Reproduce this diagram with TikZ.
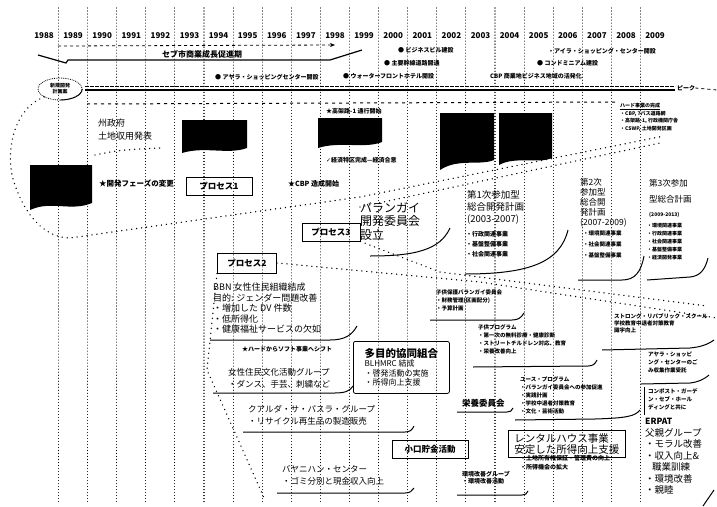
\documentclass[tikz,border=0pt]{standalone}
\usepackage{fontspec}
\setmainfont{Noto Sans CJK JP}
\newfontfamily\symfont{DejaVu Sans}
\usetikzlibrary{arrows.meta,positioning,shapes.geometric}
\tikzset{
  yearlabel/.style={font=\bfseries\fontsize{8}{9}\selectfont, inner sep=0pt},
  colsep/.style={line width=1.1pt, dash pattern=on 0.01pt off 3pt, line cap=round},
  dotfunnel/.style={line width=1.5pt, dash pattern=on 0.01pt off 5pt, line cap=round},
  eventtext/.style={anchor=west, inner sep=0pt, font=\bfseries\fontsize{6}{7}\selectfont},
  smalltext/.style={anchor=north west, align=left, inner sep=0pt, font=\bfseries\fontsize{5.5}{8}\selectfont},
  midtext/.style={anchor=north west, align=left, inner sep=0pt, font=\fontsize{8.5}{12}\selectfont},
  bigtext/.style={anchor=north west, align=left, inner sep=0pt, font=\fontsize{10}{12}\selectfont},
  procbox/.style={draw, line width=1pt, minimum width=58pt, minimum height=18pt, inner sep=1pt, font=\bfseries\fontsize{8.5}{9}\selectfont},
  flagfill/.style={fill=black},
  curveline/.style={line width=1pt}
}
\begin{document}
\begin{tikzpicture}[x=1pt,y=-1pt]
\fill[white] (0,0) rectangle (717,506);
\useasboundingbox (0,0) rectangle (717,506);
% year columns
\foreach \i in {0,...,20}
  \draw[colsep] ({58.5+29.1*\i},8) -- ({58.5+29.1*\i},504);
\foreach \yr [count=\i from 0] in {1988,...,2009}
  \node[yearlabel] (y\yr) at ({44+29.1*\i},36) {\yr};

% growth arrow
\draw[dashed, line width=0.8pt, -{Stealth[length=5pt,width=4pt]}] (58,46) -- (335,45);
\node[font=\bfseries\fontsize{8}{9}\selectfont, inner sep=0pt] (boom) at (202,54) {セブ市商業成長促進期};
\draw[line width=1.2pt] (38,55) -- (66,63) -- (68,60) -- (330,60) -- (362,50);

% events
\node[eventtext] (bizbld) at (398,50) {● ビジネスビル建設};
\node[eventtext] (island) at (548,51) {・アイラ・ショッピング・センター開設};
\node[eventtext] (road) at (384,63) {● 主要幹線道路開通};
\node[eventtext] (condo) at (537,63) {● コンドミニアム建設};
\node[eventtext] (ayala) at (215,77) {● アヤラ・ショッピングセンター開設};
\node[eventtext] (water) at (343,76) {● ウォーターフロントホテル開設};
\node[eventtext] (cbpbiz) at (490,76) {CBP 商業地ビジネス地域の活発化};
\draw[line width=0.6pt, dash pattern=on 4pt off 1pt] (85,86) -- (675,86);
\draw[line width=1.3pt] (85,90) -- (675,90);
\node[eventtext] (peak) at (677,88) {ピーク};
\draw[dashed, line width=0.8pt] (peak.east) -- (717,90);
\draw[line width=1pt, dash pattern=on 3pt off 4pt] (87,104) -- (615,102);

% start plan
\node[ellipse, minimum width=44pt, minimum height=22pt, inner sep=0pt, align=center, font=\bfseries\fontsize{5}{6}\selectfont] (newplan) at (60,89) {新規開発\\計画案};
\draw[densely dotted, line width=0.8pt] (newplan.center) ellipse (22 and 11);
\draw[line width=0.9pt] (newplan.east) arc[start angle=0, end angle=90, x radius=22, y radius=11];
\draw[dotfunnel] (newplan.south west) .. controls (10,110) and (5,160) .. (15,185) .. controls (25,215) and (45,238) .. (70,238) -- (360,197) -- (664,136);
\draw[dotfunnel] (360,207) -- (660,143);

% photos
\fill[flagfill] (30,165) -- (92,165) -- (92,203) .. controls (70,212) and (52,200) .. (30,210) -- cycle;
\fill[flagfill] (182,120) -- (247,120) -- (247,148) .. controls (228,155) and (205,146) .. (182,153) -- cycle;
\fill[flagfill] (318,118) -- (382,118) -- (382,142) .. controls (365,149) and (340,141) .. (318,148) -- cycle;
\fill[flagfill] (440,113) -- (494,113) -- (494,160) .. controls (480,166) and (458,158) .. (440,170) -- cycle;
\fill[flagfill] (499,113) -- (552,113) -- (552,158) .. controls (538,164) and (515,156) .. (499,165) -- cycle;

% process 1 and 3
\node[midtext, font=\fontsize{9}{13}\selectfont] (govt) at (98,119) {州政府\\土地収用発表};
\draw[dotfunnel] (95,155) .. controls (120,150) .. (160,148);
\node[eventtext, font=\bfseries\fontsize{7.5}{8}\selectfont] (phase) at (99,184) {★開発フェーズの変更};
\node[procbox, minimum width=66pt] (proc1) at (219,186) {プロセス1};
\node[eventtext, font=\bfseries\fontsize{7}{8}\selectfont] (cbpstart) at (288,184) {★CBP 造成開始};
\node[eventtext] (hwy) at (326,111) {★高架路-1 通行開始};
\node[eventtext] (econ) at (326,160) {{\symfont ✓}経済特区完成—経済合意};
\node[procbox] (proc3) at (331,232) {プロセス3};
\node[bigtext, font=\fontsize{12}{13.5}\selectfont] (brgy) at (360,202) {バランガイ\\開発委員会\\設立};
\draw[curveline] (370,256) .. controls (415,256) and (440,250) .. (450,228);

% plans
\node[bigtext, font=\fontsize{9.5}{12}\selectfont] (plan1) at (467,190) {第1次参加型\\総合開発計画\\(2003-2007)};
\node[smalltext, font=\bfseries\fontsize{6}{10}\selectfont] (plan1items) at (466,231) {・行政関連事業\\・基盤整備事業\\・社会関連事業};
\draw[curveline] (465,274) .. controls (530,274) and (560,262) .. (568,230);
\node[bigtext, font=\fontsize{8.5}{10}\selectfont] (plan2) at (580,178) {第2次\\参加型\\総合開\\発計画\\(2007-2009)};
\node[smalltext, font=\bfseries\fontsize{5.5}{11}\selectfont] (plan2items) at (583,231) {・環境関連事業\\・社会関連事業\\・基盤整備事業};
\draw[curveline] (578,280) -- (622,280) .. controls (635,280) and (641,272) .. (644,256);
\node[bigtext, font=\fontsize{8.5}{16}\selectfont] (plan3) at (649,179) {第3次参加\\型総合計画};
\node[smalltext, font=\bfseries\fontsize{5}{6}\selectfont] (plan3yr) at (649,212) {(2009-2013)};
\node[smalltext, font=\bfseries\fontsize{5}{8}\selectfont] (plan3items) at (647,223) {・環境関連事業\\・行政関連事業\\・社会関連事業\\・基盤整備事業\\・経済開発事業};
\draw[curveline] (647,280) -- (690,277) .. controls (700,276) and (705,270) .. (708,258);
\node[smalltext, font=\bfseries\fontsize{5}{7.7}\selectfont] (hard) at (620,103) {\underline{ハード事業の完成}\\・CBP, 7バス道路網\\・高架路-1, 行政機関庁舎\\・CSWP, 土地開発区画};

% process 2
\node[procbox, minimum width=59pt, minimum height=20pt] (proc2) at (247,263) {プロセス2};
\draw[dotfunnel] (proc2.east) -- (480,282) -- (717,318);
\draw[dotfunnel] (proc3.south east) -- (440,272) -- (707,306);
\draw[dotfunnel] (proc2.south west) -- (207,370) -- (265,500);
\node[midtext, font=\fontsize{9}{10.5}\selectfont] (bbn) at (213,283) {BBN 女性住民組織結成\\目的: ジェンダー問題改善\\・増加した DV 件数\\・低所得化\\・健康福祉サービスの欠如};
\draw[curveline] (210,340) -- (330,340) .. controls (345,340) and (352,335) .. (357,326);
\node[eventtext] (shift) at (242,349) {★ハードからソフト事業へシフト};
\node[midtext] (culture) at (228,368) {女性住民文化活動グループ\\・ダンス、手芸、刺繍など};
\draw[curveline] (213,393) -- (335,393) .. controls (345,393) and (350,391) .. (353,386);
\node[midtext] (kualda) at (248,405) {クアルダ・サ・パスラ・グループ\\・リサイクル再生品の製造販売};
\draw[curveline] (243,432) -- (405,432) .. controls (410,432) and (412,430) .. (414,426);
\node[midtext] (bayani) at (282,465) {バヤニハン・センター\\・ゴミ分別と現金収入向上};
\draw[curveline] (277,493) -- (405,493) .. controls (410,493) and (412,491) .. (414,488);
\node[draw, line width=0.8pt, rounded corners=2pt, anchor=north west, align=left, inner sep=3pt, font=\fontsize{8}{9.5}\selectfont, minimum width=96pt, minimum height=52pt] (coop) at (353,341) {{\bfseries\fontsize{10.5}{11}\selectfont 多目的協同組合}\\BLHMRC 結成\\・啓発活動の実施\\・所得向上支援};
\node[draw, line width=0.8pt, minimum width=76pt, minimum height=18pt, inner sep=1pt, font=\bfseries\fontsize{8.5}{9}\selectfont] (savings) at (430,449) {小口貯金活動};
\node[smalltext] (bcpc) at (436,290) {子供保護バランガイ委員会\\・財務管理(区画配分)\\・予算計画};
\draw[curveline] (430,320) -- (512,320) .. controls (518,320) and (521,318) .. (524,313);
\node[smalltext] (kids) at (478,324) {子供プログラム\\・第一次の無料診療・健康診断\\・ストリートチルドレン対応、教育\\・栄養改善向上};
\draw[curveline] (473,367) -- (588,366) .. controls (593,366) and (595,364) .. (597,360);
\node[smalltext] (youth) at (520,376) {ユース・プログラム\\・バランガイ委員会への参加促進\\・実践計画\\・学校中退者対策教育\\・文化・芸術活動};
\draw[curveline] (515,420) -- (595,419) .. controls (628,418) and (635,416) .. (640,410);
\node[anchor=west, inner sep=0pt, font=\bfseries\fontsize{8.5}{9}\selectfont] (nutri) at (462,403) {栄養委員会};
\draw[curveline] (457,412) -- (507,412) .. controls (510,412) and (512,411) .. (513,408);
\node[draw, line width=0.8pt, anchor=north west, align=left, inner sep=2pt, font=\fontsize{10.5}{11.5}\selectfont, minimum width=117pt, minimum height=27pt] (rental) at (508,430) {レンタルハウス事業\\安定した所得向上支援};
\node[smalltext, font=\bfseries\fontsize{6}{9}\selectfont] (rentalsub) at (520,455) {・土地所有権保証・管理費の向上\\・所得機会の拡大};
\node[smalltext, font=\bfseries\fontsize{6}{7.5}\selectfont] (envgrp) at (462,471) {環境改善グループ\\・環境改善活動};
\draw[curveline] (457,495) -- (522,495) .. controls (525,495) and (527,494) .. (528,491);
\node[smalltext, font=\bfseries\fontsize{5.5}{7}\selectfont] (strong) at (614,313) {ストロング・リパブリック・スクール\\学校教育中退者対策教育\\識字向上};
\draw[curveline] (602,350) -- (690,348) .. controls (700,347) and (707,345) .. (714,340);
\node[smalltext] (ayalagc) at (648,352) {アヤラ・ショッピ\\ング・センターのご\\み収集作業受託};
\draw[curveline] (641,384) -- (690,383) .. controls (698,382) and (703,380) .. (709,375);
\node[smalltext] (compost) at (648,388) {コンポスト・ガーデ\\ン・セブ・ホール\\ディングと共に};
\draw[line width=0.8pt] (compost.north west) ++(-4,-1) -- ++(0,28);
\node[midtext, font=\fontsize{9.5}{11.5}\selectfont] (erpat) at (645,418) {{\bfseries\fontsize{8.5}{9}\selectfont ERPAT}\\父親グループ\\・モラル改善\\・収入向上\&\\\hspace{7pt}職業訓練\\・環境改善\\・親睦};
\draw[line width=1pt] (703,506) -- (714,490);
\end{tikzpicture}
\end{document}
